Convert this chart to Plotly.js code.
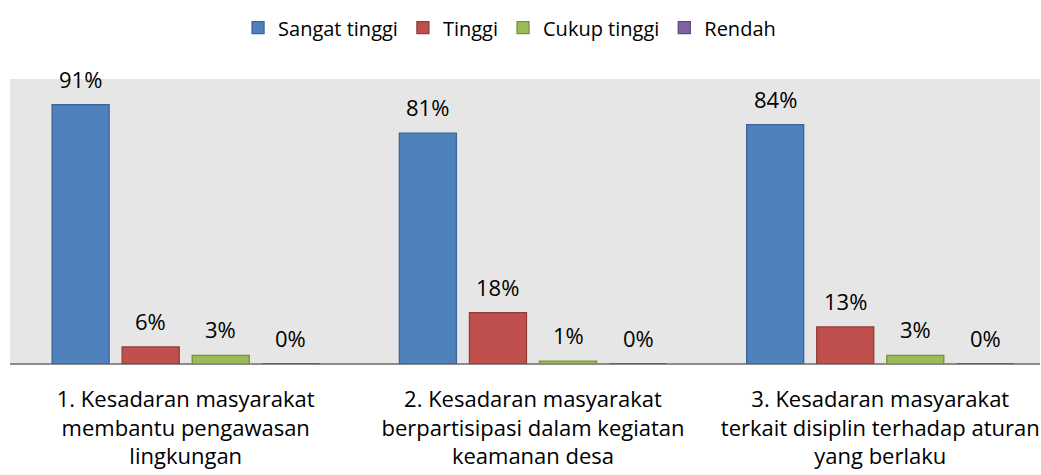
<!DOCTYPE html>
<html>
<head>
<meta charset="utf-8">
<script src="https://cdn.plot.ly/plotly-3.0.1.min.js"></script>
<style>html,body{margin:0;padding:0;background:#fff;}#chart{width:1041px;height:475px;}</style>
</head>
<body>
<div id="chart"></div>
<script>
const categories = [
  "1. Kesadaran masyarakat<br>membantu pengawasan<br>lingkungan",
  "2. Kesadaran masyarakat<br>berpartisipasi dalam kegiatan<br>keamanan desa",
  "3. Kesadaran masyarakat<br>terkait disiplin terhadap aturan<br>yang berlaku"
];
const seriesNames = ["Sangat tinggi", "Tinggi", "Cukup tinggi", "Rendah"];
const sangatTinggi = [91, 81, 84];
const tinggi = [6, 18, 13];
const cukupTinggi = [3, 1, 3];
const rendah = [0, 0, 0];
const seriesValues = [sangatTinggi, tinggi, cukupTinggi, rendah];
const fills = ["#4f81bd", "#c0504d", "#9bbb59", "#8064a2"];
const lines = ["#3b6496", "#943c39", "#76923f", "#5f4a7b"];

const FONT = "'Open Sans', sans-serif";
const FS = 22;
const bargap = 0.193;
const slot = (1 - bargap) / seriesNames.length;

const traces = seriesNames.map((name, j) => ({
  type: "bar",
  name: name,
  x: [0, 1, 2],
  y: seriesValues[j],
  marker: { color: fills[j], line: { color: lines[j], width: 1.3 } },
  hoverinfo: "none"
}));

const annotations = [];
seriesValues.forEach((vals, j) => {
  vals.forEach((v, i) => {
    annotations.push({
      x: i + (j - (seriesNames.length - 1) / 2) * slot,
      y: v,
      xref: "x", yref: "y",
      text: v + "%",
      showarrow: false,
      yanchor: "bottom",
      yshift: 9,
      font: { family: FONT, size: FS, color: "#000" }
    });
  });
});

const layout = {
  width: 1041, height: 475,
  margin: { l: 10, r: 1, t: 79, b: 111, pad: 0 },
  paper_bgcolor: "#ffffff",
  plot_bgcolor: "#e6e6e6",
  barmode: "group",
  bargap: bargap,
  bargroupgap: 0.186,
  font: { family: FONT, size: FS, color: "#000" },
  showlegend: true,
  legend: {
    orientation: "h", x: 0.485, xanchor: "center", y: 1.18, yanchor: "middle",
    font: { family: FONT, size: 20, color: "#000" },
    itemwidth: 30, traceorder: "normal"
  },
  xaxis: {
    type: "linear",
    range: [-0.506, 2.46],
    tickmode: "array",
    tickvals: [0, 1, 2],
    ticktext: categories,
    ticks: "",
    ticklabelstandoff: 20,
    showgrid: false,
    zeroline: false,
    showline: false,
    tickfont: { family: FONT, size: FS, color: "#000" }
  },
  yaxis: {
    range: [0, 100],
    showticklabels: false,
    showgrid: false,
    zeroline: true,
    zerolinecolor: "#8c8c8c",
    zerolinewidth: 2,
    showline: false,
    ticks: ""
  },
  annotations: annotations
};

Plotly.newPlot("chart", traces, layout, { displayModeBar: false, staticPlot: true });
</script>
</body>
</html>
